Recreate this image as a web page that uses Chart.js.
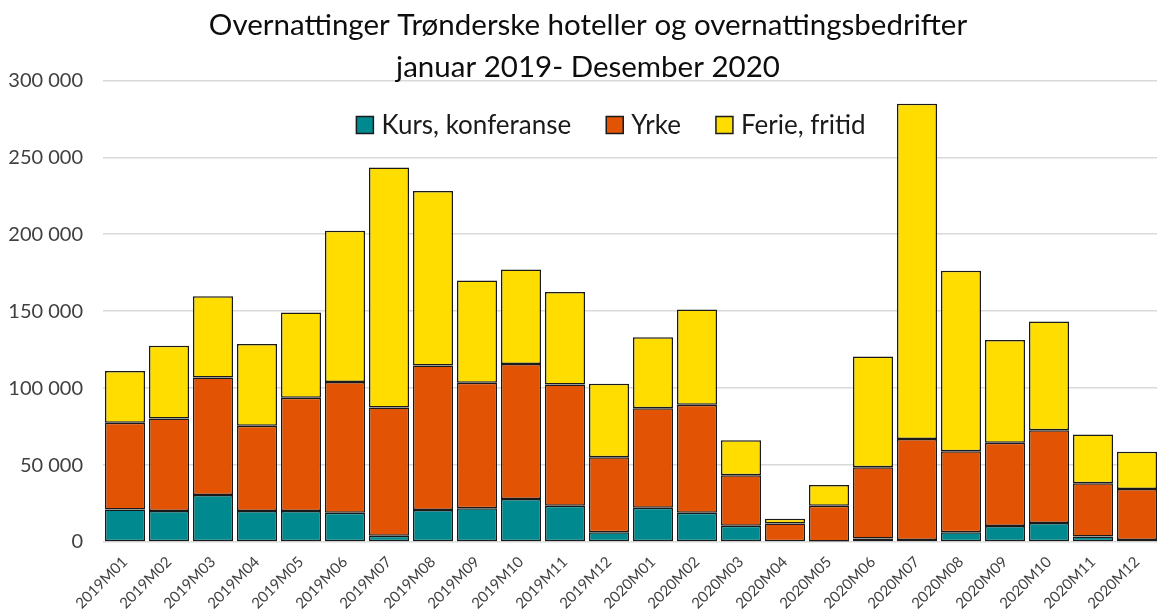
<!DOCTYPE html>
<html>
<head>
<meta charset="utf-8">
<script src="https://cdn.jsdelivr.net/npm/chart.js@4.4.1/dist/chart.umd.min.js"></script>
<style>
  html, body { margin: 0; padding: 0; background: #fff; overflow: hidden; }
  #wrap { width: 1176px; height: 613px; position: relative; }
</style>
</head>
<body>
<div id="wrap"><canvas id="chart"></canvas></div>
<script>
// Months, Jan 2019 - Dec 2020
const months = [
    '2019M01', '2019M02', '2019M03', '2019M04', '2019M05', '2019M06',
    '2019M07', '2019M08', '2019M09', '2019M10', '2019M11', '2019M12',
    '2020M01', '2020M02', '2020M03', '2020M04', '2020M05', '2020M06',
    '2020M07', '2020M08', '2020M09', '2020M10', '2020M11', '2020M12'
];

// Overnattinger per segment
const kurs = [
    21200, 20100, 30500, 20100, 20100, 19000, 4100, 20800, 21900, 27900, 23600, 6300,
    22300, 19000, 10600, 500, 300, 2200, 1300, 6300, 10400, 12300, 3500, 1300
];
const yrke = [
    56300, 60200, 76400, 55400, 73600, 84900, 83300, 93900, 81600, 87700, 78800, 48700,
    64700, 70200, 32700, 11600, 23300, 46300, 65600, 52600, 54100, 60400, 34600, 33100
];
const ferie = [
    33700, 47200, 52800, 53100, 55400, 98300, 155900, 113400, 66400, 61500, 60100, 47800,
    46100, 61900, 22900, 3000, 13400, 72100, 217900, 117300, 66700, 70600, 31800, 24200
];

const yTicks = [0, 50000, 100000, 150000, 200000, 250000, 300000];

const textColor = '#404040';
const fontFamily = 'Lato, "Open Sans", sans-serif';

function fmt(v) {
    return String(v).replace(/\B(?=(\d{3})+(?!\d))/g, ' ');
}

function makeSet(label, data, color) {
    return {
        label: label,
        data: data,
        backgroundColor: color,
        borderColor: '#1a1a1a',
        borderWidth: 1.5,
        borderSkipped: false,
        categoryPercentage: 1.0,
        barPercentage: 0.91
    };
}

// Horizontal legend drawn inside the plot, like the original
const innerLegend = {
    id: 'innerLegend',
    afterDraw(chart, args, opts) {
        const ctx = chart.ctx;
        const sets = chart.data.datasets;
        ctx.save();
        ctx.font = `${opts.size}px ${fontFamily}`;
        const widths = sets.map(ds => opts.box + opts.boxGap + ctx.measureText(ds.label).width);
        const total = widths.reduce((a, b) => a + b, 0) + opts.itemGap * (sets.length - 1);
        let x = opts.centerX - total / 2;
        const y = opts.centerY;
        sets.forEach((ds, i) => {
            ctx.fillStyle = ds.backgroundColor;
            ctx.fillRect(x, y - opts.box / 2, opts.box, opts.box);
            ctx.strokeStyle = '#1a1a1a';
            ctx.lineWidth = 1.5;
            ctx.strokeRect(x, y - opts.box / 2, opts.box, opts.box);
            ctx.fillStyle = '#1a1a1a';
            ctx.textBaseline = 'middle';
            ctx.textAlign = 'left';
            ctx.fillText(ds.label, x + opts.box + opts.boxGap, y + 1);
            x += widths[i] + opts.itemGap;
        });
        ctx.restore();
    }
};

new Chart(document.getElementById('chart'), {
    type: 'bar',
    data: {
        labels: months,
        datasets: [
            makeSet('Kurs, konferanse', kurs, '#008a8f'),
            makeSet('Yrke', yrke, '#e25304'),
            makeSet('Ferie, fritid', ferie, '#ffdd00')
        ]
    },
    plugins: [innerLegend],
    options: {
        responsive: true,
        maintainAspectRatio: false,
        animation: false,
        plugins: {
            title: {
                display: true,
                text: ['Overnattinger Trønderske hoteller og overnattingsbedrifter', 'januar 2019- Desember 2020'],
                color: '#0d0d0d',
                font: { family: fontFamily, size: 29.5, weight: 'normal', lineHeight: 1.43 },
                padding: { top: 4, bottom: -8 }
            },
            legend: { display: false },
            innerLegend: { centerX: 611, centerY: 125, size: 26, box: 17, boxGap: 8, itemGap: 35 },
            tooltip: { enabled: false }
        },
        scales: {
            x: {
                stacked: true,
                grid: { display: false },
                border: { display: false },
                ticks: {
                    color: textColor,
                    font: { family: fontFamily, size: 15 },
                    minRotation: 45,
                    maxRotation: 45,
                    autoSkip: false
                },
                afterFit: scale => { scale.height = 71; }
            },
            y: {
                stacked: true,
                min: 0,
                max: 300000,
                afterBuildTicks: scale => { scale.ticks = yTicks.map(v => ({ value: v })); },
                grid: { color: '#d9d9d9', lineWidth: 1.5, drawTicks: false },
                border: { display: false },
                ticks: {
                    color: textColor,
                    font: { family: fontFamily, size: 20 },
                    padding: 20,
                    callback: v => fmt(v)
                },
                afterFit: scale => { scale.width = 103; }
            },
            // empty strip on the right so the plot stops short of the edge
            pad: {
                position: 'right',
                display: true,
                grid: { display: false },
                border: { display: false },
                ticks: { display: false },
                afterFit: scale => { scale.width = 17; }
            }
        }
    }
});
</script>
</body>
</html>
